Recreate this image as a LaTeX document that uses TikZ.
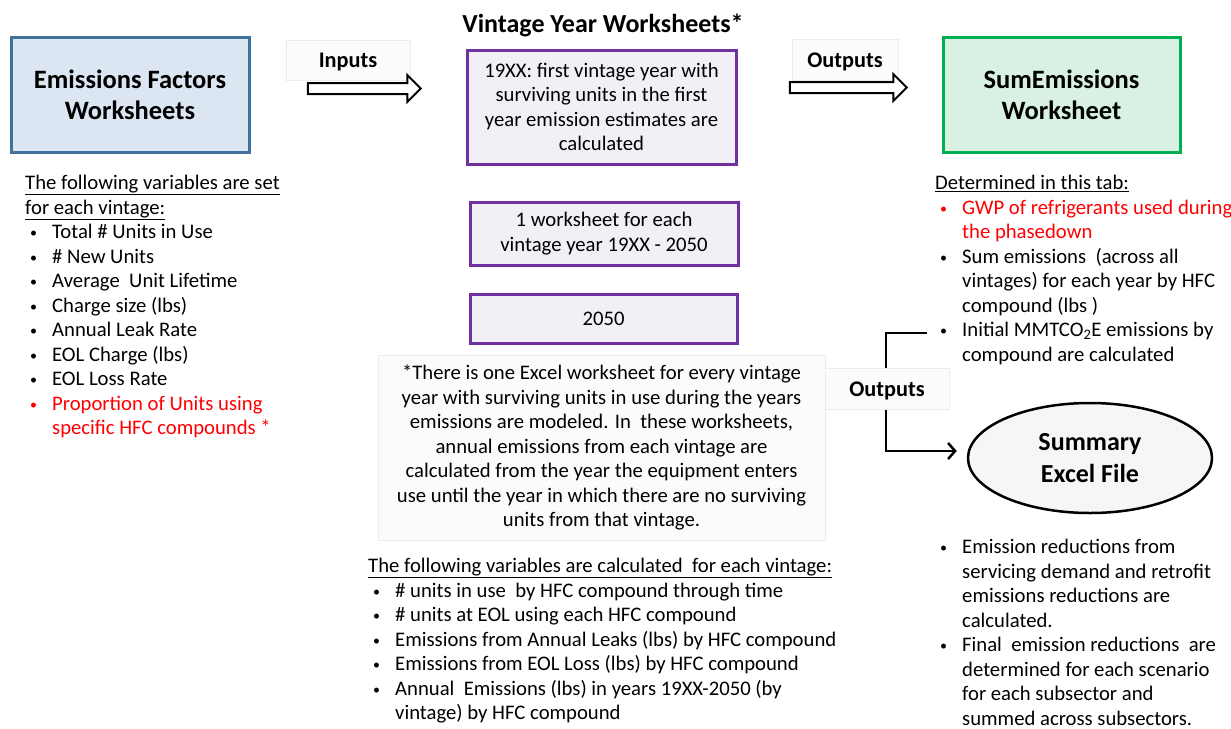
\documentclass[tikz,border=0pt]{standalone}
\usepackage{fontspec}
\setmainfont{Carlito}
\usepackage{xcolor}
\usetikzlibrary{positioning,shapes,shapes.arrows,arrows.meta}
\definecolor{factblue}{HTML}{DCE6F2}
\definecolor{factedge}{HTML}{41719C}
\definecolor{sumgreen}{HTML}{D8F1E3}
\definecolor{sumedge}{HTML}{00B050}
\definecolor{vintfill}{HTML}{F2EFF7}
\definecolor{vintedge}{HTML}{7030A0}
\definecolor{hfcred}{HTML}{FF0000}
\newcommand{\bodysize}{\fontsize{20.7}{24.5}\selectfont}
\newcommand{\bul}{\hspace*{5pt}\makebox[22pt][l]{\raisebox{1pt}{\fontsize{14}{14}\selectfont\textbullet}}}
\newcommand{\ind}{\hspace*{27pt}}

\begin{document}
\begin{tikzpicture}[x=1pt,y=-1pt]
\tikzstyle{every node}+=[inner sep=0pt]
\tikzstyle{worksheet}=[draw, line width=3pt, align=center, font=\bfseries\fontsize{26.5}{31}\selectfont]
\tikzstyle{vintage}=[draw=vintedge, fill=vintfill, line width=3pt, align=center, font=\bodysize]
\tikzstyle{tag}=[draw=gray!15, fill=gray!2, text depth=0pt, font=\bfseries\fontsize{22.3}{24}\selectfont]
\tikzstyle{blockarrow}=[single arrow, draw, fill=white, line width=2pt, single arrow head extend=8pt, text height=9pt, text depth=0pt]
\tikzstyle{notes}=[align=left, anchor=north west, font=\bodysize]
\useasboundingbox (0,0) rectangle (1231,728);
\node[worksheet, draw=factedge, fill=factblue, minimum width=238pt, minimum height=115pt] (factors) at (130,94.5) {Emissions Factors\\Worksheets};
\node[tag, minimum width=124pt, minimum height=40pt] (factin) at (348,60) {Inputs};
\node[blockarrow, minimum height=113pt] (inarrow) at (361.5,88.5) {};
\node[font=\bfseries\fontsize{26}{28}\selectfont] (vintitle) at (603,25) {Vintage Year Worksheets*};
\node[vintage, minimum width=269pt, minimum height=114pt] (firstyear) at (601.5,107) {19XX: first vintage year with\\surviving units in the first\\year emission estimates are\\calculated};
\node[vintage, minimum width=268pt, minimum height=63pt] (eachyear) at (604,233.5) {1 worksheet for each\\vintage year 19XX - 2050};
\node[vintage, minimum width=267pt, minimum height=49pt] (lastyear) at (603.5,318.5) {2050};
\node[draw=gray!15, fill=gray!3, align=center, font=\bodysize, minimum width=447pt, minimum height=185pt] (footnote) at (601.5,447.5) {*There is one Excel worksheet for every vintage\\year with surviving units in use during the years\\emissions are modeled. In~ these worksheets,\\annual emissions from each vintage are\\calculated from the year the equipment enters\\use until the year in which there are no surviving\\units from that vintage.};
\node[tag, minimum width=106pt, minimum height=41pt] (vintout) at (845,60) {Outputs};
\node[blockarrow, minimum height=117pt] (outarrow) at (845.5,87.5) {};
\node[worksheet, draw=sumedge, fill=sumgreen, minimum width=237pt, minimum height=115pt] (sumsheet) at (1061.5,94.5) {SumEmissions\\Worksheet};
\node[ellipse, draw, fill=gray!7, line width=2.5pt, minimum width=244pt, minimum height=110pt, align=center, font=\bfseries\fontsize{26}{32}\selectfont] (summary) at (1090,458) {Summary\\Excel File};
\node[notes] (setvars) at (25,175) {\underline{The following variables are set}\\\underline{for each vintage:}\\\bul Total \# Units in Use\\\bul \# New Units\\\bul Average~ Unit Lifetime\\\bul Charge size (lbs)\\\bul Annual Leak Rate\\\bul EOL Charge (lbs)\\\bul EOL Loss Rate\\{\color{hfcred}\bul Proportion of Units using}\\{\color{hfcred}\ind specific HFC compounds *}};
\node[notes] (tabvars) at (935,175) {\underline{Determined in this tab:}\\{\color{hfcred}\bul GWP of refrigerants used during}\\{\color{hfcred}\ind the phasedown}\\\bul Sum emissions~ (across all\\\ind vintages) for each year by HFC\\\ind compound (lbs )\\\bul Initial MMTCO\textsubscript{2}E emissions by\\\ind compound are calculated};
\node[notes] (calcvars) at (368,558) {\underline{The following variables are calculated~ for each vintage:}\\\bul \# units in use~ by HFC compound through time\\\bul \# units at EOL using each HFC compound\\\bul Emissions from Annual Leaks (lbs) by HFC compound\\\bul Emissions from EOL Loss (lbs) by HFC compound\\\bul Annual~ Emissions (lbs) in years 19XX-2050 (by\\\ind vintage) by HFC compound};
\node[notes] (reductions) at (935,539) {\bul Emission reductions from\\\ind servicing demand and retrofit\\\ind emissions reductions are\\\ind calculated.\\\bul Final~ emission reductions~ are\\\ind determined for each scenario\\\ind for each subsector and\\\ind summed across subsectors.};
\coordinate (elbowtop) at (927,333);
\draw[line width=2.5pt, -{Straight Barb[length=7pt,width=16pt]}, shorten >=10pt] (elbowtop) -- ++(-41,0) |- ([yshift=7pt]summary.west);
\node[tag, minimum width=124pt, minimum height=41pt] (sumout) at (887,389) {Outputs};
\end{tikzpicture}
\end{document}
